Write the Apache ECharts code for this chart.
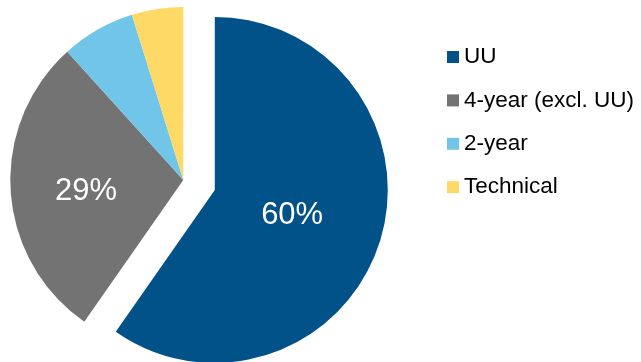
<!DOCTYPE html>
<html>
<head>
<meta charset="utf-8">
<script src="https://cdn.jsdelivr.net/npm/echarts@6/dist/echarts.min.js"></script>
<style>html,body{margin:0;padding:0;background:#fff;}#c{width:641px;height:362px;}</style>
</head>
<body>
<div id="c"></div>
<script>
const categories = ['UU', '4-year (excl. UU)', '2-year', 'Technical'];
const values = [59.7, 28.6, 6.9, 4.8];
const colors = ['#005288', '#737373', '#71C5E8', '#FFD966'];
const showLabel = [true, true, false, false];

const chart = echarts.init(document.getElementById('c'), null, {renderer: 'canvas'});
const labelShift = [[-8, -1.5], [-8, 5.5], [0, 0], [0, 0]];
const data = categories.map((n, i) => ({
  name: n,
  value: values[i],
  selected: i === 0,
  itemStyle: {color: colors[i]},
  label: {show: showLabel[i]}
}));
chart.setOption({
  animation: false,
  legend: {
    orient: 'vertical',
    left: 447,
    top: 45.5,
    padding: 0,
    itemWidth: 12,
    itemHeight: 12,
    itemGap: 20.4,
    icon: 'rect',
    selectedMode: false,
    textStyle: {fontFamily: 'Liberation Sans, Arial', fontSize: 22.5, lineHeight: 22, color: '#000', padding: [0,0,0,0]},
    data: categories
  },
  series: [{
    type: 'pie',
    center: [183.3, 180],
    radius: [0, 173],
    startAngle: 90,
    clockwise: true,
    selectedMode: 'single',
    selectedOffset: 33,
    avoidLabelOverlap: false,
    itemStyle: {borderWidth: 0},
    emphasis: {disabled: true},
    label: {
      position: 'inside',
      color: '#fff',
      fontFamily: 'Liberation Sans, Arial',
      fontSize: 31,
      formatter: p => Math.round(p.value) + '%'
    },
    labelLayout: p => ({dx: labelShift[p.dataIndex][0], dy: labelShift[p.dataIndex][1]}),
    labelLine: {show: false},
    data: data
  }]
});
</script>
</body>
</html>
